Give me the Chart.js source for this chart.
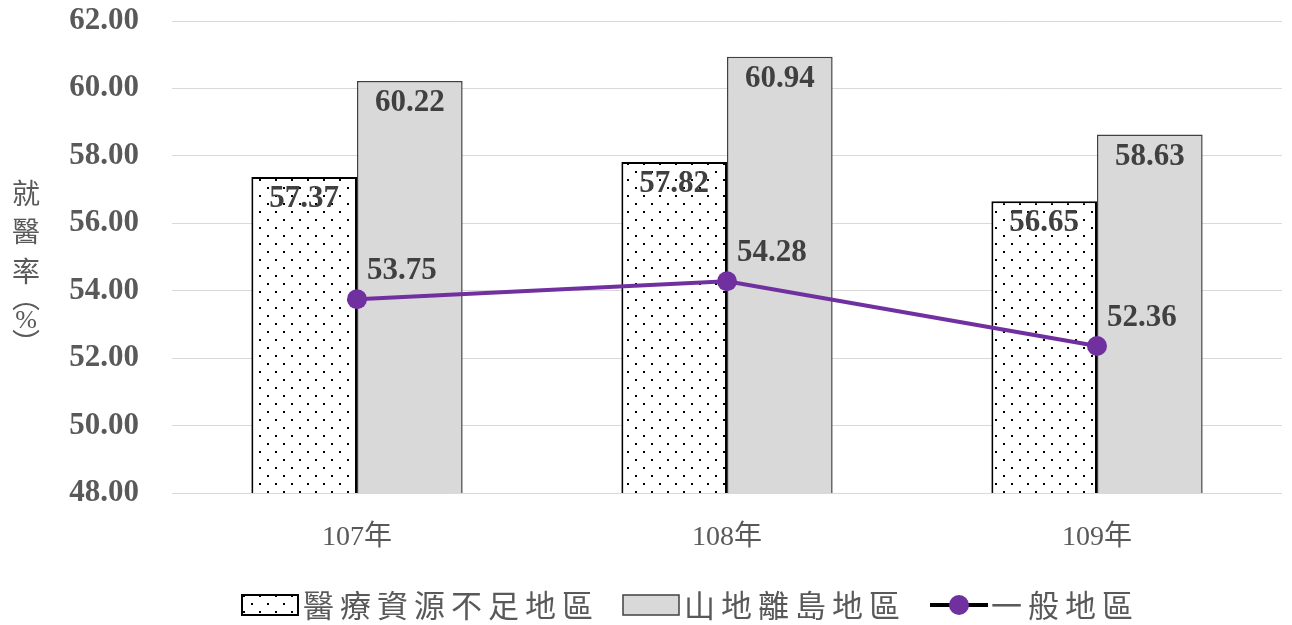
<!DOCTYPE html>
<html lang="zh-Hant">
<head>
<meta charset="utf-8">
<title>就醫率</title>
<script src="https://cdn.jsdelivr.net/npm/chart.js@4.4.1/dist/chart.umd.min.js"></script>
<style>
  html, body { margin: 0; padding: 0; background: #fff; }
  #wrap { width: 1292px; height: 625px; position: relative; }
</style>
</head>
<body>
<div id="wrap"><canvas id="myChart"></canvas></div>
<script>
// data
const years = ['107年', '108年', '109年'];
const shortage = [57.37, 57.82, 56.65]; // 醫療資源不足地區
const mountain = [60.22, 60.94, 58.63]; // 山地離島地區
const general = [53.75, 54.28, 52.36];  // 一般地區
const yTicks = [48, 50, 52, 54, 56, 58, 60, 62];
const seriesNames = ['醫療資源不足地區', '山地離島地區', '一般地區'];
const axisTitle = ['就', '醫', '率', '︵', '%', '︶'];

const serif = '"Liberation Serif", "Noto Sans CJK TC", serif';
const cjk = '"Noto Sans CJK TC", sans-serif';
const purple = '#7030A0';

const canvas = document.getElementById('myChart');

// 點狀網底
function makeDots() {
  const tile = document.createElement('canvas');
  tile.width = 16;
  tile.height = 16;
  const g = tile.getContext('2d');
  g.fillStyle = '#fff';
  g.fillRect(0, 0, 16, 16);
  g.fillStyle = '#000';
  g.fillRect(3, 3, 2, 2);
  g.fillRect(11, 11, 2, 2);
  return canvas.getContext('2d').createPattern(tile, 'repeat');
}
const dots = makeDots();

// 數值標籤
const valueLabels = {
  id: 'valueLabels',
  afterDatasetsDraw(chart) {
    const ctx = chart.ctx;
    ctx.save();
    ctx.font = 'bold 31px ' + serif;
    ctx.fillStyle = '#404040';
    ctx.textBaseline = 'middle';
    chart.data.datasets.forEach((ds, i) => {
      chart.getDatasetMeta(i).data.forEach((el, j) => {
        const txt = ds.data[j].toFixed(2);
        if (ds.type === 'line') {
          ctx.textAlign = 'left';
          ctx.fillText(txt, el.x + 10, el.y - 28);
        } else {
          ctx.textAlign = 'center';
          ctx.fillText(txt, el.x, el.y + 22);
        }
      });
    });
    ctx.restore();
  }
};

// 直排的 y 軸標題
const yTitle = {
  id: 'yTitle',
  afterDraw(chart) {
    const ctx = chart.ctx;
    const offsets = [193, 231, 271, 297, 321, 343];
    ctx.save();
    ctx.fillStyle = '#595959';
    ctx.textAlign = 'center';
    ctx.textBaseline = 'middle';
    axisTitle.forEach((ch, i) => {
      ctx.font = ch === '%' ? '26px ' + serif : '28px ' + cjk;
      ctx.fillText(ch, 26, offsets[i]);
    });
    ctx.restore();
  }
};

// 圖例（字距較寬，自行繪製）
const legendRow = {
  id: 'legendRow',
  afterDraw(chart) {
    const ctx = chart.ctx;
    const cy = 605;
    let x = 242;
    ctx.save();
    ctx.font = '31px ' + cjk;
    ctx.letterSpacing = '6px';
    ctx.textBaseline = 'middle';
    ctx.textAlign = 'left';
    seriesNames.forEach((name, i) => {
      if (i === 0) {
        ctx.fillStyle = dots;
        ctx.fillRect(x, cy - 10, 56, 20);
        ctx.lineWidth = 2;
        ctx.strokeStyle = '#000';
        ctx.strokeRect(x, cy - 10, 56, 20);
      } else if (i === 1) {
        ctx.fillStyle = '#D9D9D9';
        ctx.fillRect(x, cy - 10, 56, 20);
        ctx.lineWidth = 1.5;
        ctx.strokeStyle = '#404040';
        ctx.strokeRect(x, cy - 10, 56, 20);
      } else {
        ctx.lineWidth = 4;
        ctx.strokeStyle = '#000';
        ctx.beginPath();
        ctx.moveTo(x, cy);
        ctx.lineTo(x + 58, cy);
        ctx.stroke();
        ctx.fillStyle = purple;
        ctx.beginPath();
        ctx.arc(x + 29, cy, 10, 0, Math.PI * 2);
        ctx.fill();
      }
      x += 61;
      ctx.fillStyle = '#595959';
      ctx.fillText(name, x, cy);
      x += ctx.measureText(name).width + 24;
    });
    ctx.restore();
  }
};

const data = {
  labels: years,
  datasets: [
    {
      type: 'line',
      label: seriesNames[2],
      data: general,
      borderColor: purple,
      backgroundColor: purple,
      borderWidth: 4,
      pointRadius: 10,
      pointHoverRadius: 10,
      pointBorderWidth: 0,
      order: 0,
    },
    {
      type: 'bar',
      label: seriesNames[0],
      data: shortage,
      backgroundColor: dots,
      borderColor: '#000',
      borderWidth: 2,
      borderSkipped: false,
      categoryPercentage: 0.571,
      barPercentage: 1.0,
      order: 1,
    },
    {
      type: 'bar',
      label: seriesNames[1],
      data: mountain,
      backgroundColor: '#D9D9D9',
      borderColor: '#404040',
      borderWidth: 1.5,
      borderSkipped: false,
      categoryPercentage: 0.571,
      barPercentage: 1.0,
      order: 1,
    },
  ],
};

const config = {
  type: 'bar',
  data: data,
  options: {
    responsive: true,
    maintainAspectRatio: false,
    animation: false,
    layout: {
      padding: { top: 21, right: 7, bottom: 72, left: 0 },
    },
    scales: {
      x: {
        grid: { display: false },
        border: { display: false },
        ticks: {
          color: '#595959',
          font: { family: serif, size: 28 },
          padding: 20,
        },
        afterFit: (scale) => { scale.height = 60; },
      },
      y: {
        min: 48,
        max: 62,
        afterBuildTicks: (scale) => {
          scale.ticks = yTicks.map((v) => ({ value: v }));
        },
        ticks: {
          color: '#595959',
          font: { family: serif, size: 31, weight: 'bold' },
          padding: 33,
          callback: (v) => Number(v).toFixed(2),
        },
        grid: { color: '#D9D9D9', lineWidth: 1, drawTicks: false },
        border: { display: false },
        afterFit: (scale) => {
          scale.width = 172;
          scale.paddingTop = 0;
          scale.paddingBottom = 0;
        },
      },
    },
    plugins: {
      legend: { display: false },
      tooltip: { enabled: false },
    },
  },
  plugins: [valueLabels, yTitle, legendRow],
};

const myChart = new Chart(canvas, config);
</script>
</body>
</html>
